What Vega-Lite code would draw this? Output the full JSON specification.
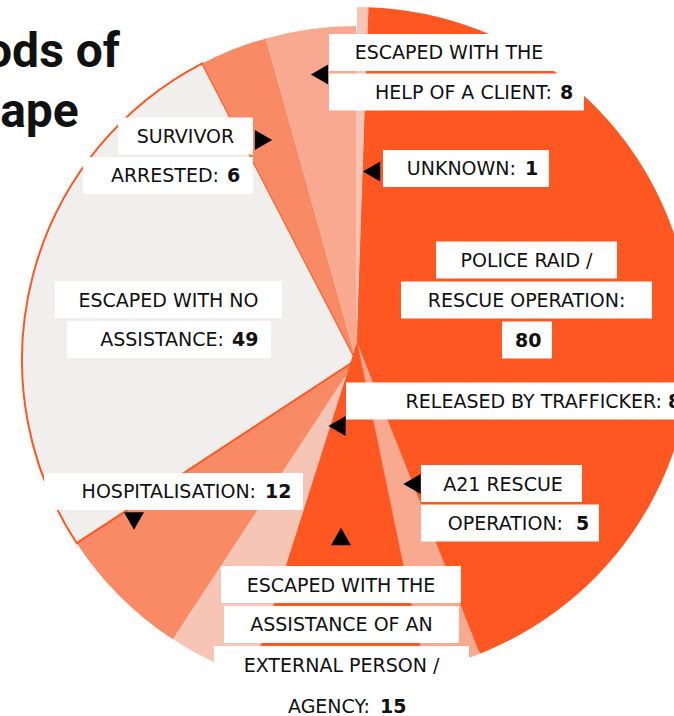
{
  "$schema": "https://vega.github.io/schema/vega-lite/v6.json",
  "width": 712,
  "height": 720,
  "padding": 0,
  "autosize": {"type": "none"},
  "background": "white",
  "config": {"view": {"stroke": null}},
  "datasets": {
    "slices": [
      {"method": "Unknown", "count": 1, "rank": 1},
      {"method": "Police raid / rescue operation", "count": 80, "rank": 2},
      {"method": "A21 rescue operation", "count": 5, "rank": 3},
      {"method": "Escaped with the assistance of an external person / agency", "count": 15, "rank": 4},
      {"method": "Released by trafficker", "count": 8, "rank": 5},
      {"method": "Hospitalisation", "count": 12, "rank": 6},
      {"method": "Escaped with no assistance", "count": 49, "rank": 7},
      {"method": "Survivor arrested", "count": 6, "rank": 8},
      {"method": "Escaped with the help of a client", "count": 8, "rank": 9}
    ],
    "boxes": [
      {"x": -8.08, "x2": 63.77, "y": 92.07},
      {"x": -8.08, "x2": 68.26, "y": 80.24},
      {"x": -71.26, "x2": -30.84, "y": 67.07},
      {"x": -81.74, "x2": -30.84, "y": 55.24},
      {"x": 8.08, "x2": 57.78, "y": 57.34},
      {"x": 23.95, "x2": 78.14, "y": 29.94},
      {"x": 13.47, "x2": 88.62, "y": 17.96},
      {"x": 43.71, "x2": 58.68, "y": 5.99},
      {"x": -90.12, "x2": -22.16, "y": 18.11},
      {"x": -86.53, "x2": -25.45, "y": 6.14},
      {"x": -2.99, "x2": 103.0, "y": -12.28},
      {"x": 19.46, "x2": 67.66, "y": -36.98},
      {"x": 19.46, "x2": 72.75, "y": -48.8},
      {"x": -93.41, "x2": -15.87, "y": -39.37},
      {"x": -40.42, "x2": 31.44, "y": -67.22},
      {"x": -39.52, "x2": 30.84, "y": -79.19},
      {"x": -42.51, "x2": 33.83, "y": -91.17}
    ],
    "centerText": [
      {"text": "ESCAPED WITH THE", "x": 27.84, "y": 92.07},
      {"text": "SURVIVOR", "x": -51.05, "y": 67.07},
      {"text": "POLICE RAID /", "x": 51.05, "y": 29.94},
      {"text": "RESCUE OPERATION:", "x": 51.05, "y": 17.96},
      {"text": "ESCAPED WITH NO", "x": -56.14, "y": 18.11},
      {"text": "A21 RESCUE", "x": 44.01, "y": -36.98},
      {"text": "ESCAPED WITH THE", "x": -4.49, "y": -67.22},
      {"text": "ASSISTANCE OF AN", "x": -4.34, "y": -79.19},
      {"text": "EXTERNAL PERSON /", "x": -4.34, "y": -91.17}
    ],
    "rightText": [
      {"text": "HELP OF A CLIENT:", "x": 58.68, "y": 80.24},
      {"text": "ARRESTED:", "x": -41.02, "y": 55.24},
      {"text": "UNKNOWN:", "x": 47.9, "y": 57.34},
      {"text": "ASSISTANCE:", "x": -39.52, "y": 6.14},
      {"text": "RELEASED BY TRAFFICKER:", "x": 91.62, "y": -12.28},
      {"text": "OPERATION:", "x": 61.98, "y": -48.8},
      {"text": "HOSPITALISATION:", "x": -29.94, "y": -39.37},
      {"text": "AGENCY:", "x": 4.19, "y": -103.59}
    ],
    "numbers": [
      {"text": "8", "x": 61.08, "y": 80.24},
      {"text": "6", "x": -38.62, "y": 55.24},
      {"text": "1", "x": 50.6, "y": 57.34},
      {"text": "80", "x": 47.6, "y": 5.99},
      {"text": "49", "x": -37.13, "y": 6.14},
      {"text": "8", "x": 93.41, "y": -12.28},
      {"text": "5", "x": 65.87, "y": -48.8},
      {"text": "12", "x": -27.25, "y": -39.37},
      {"text": "15", "x": 7.19, "y": -103.59}
    ],
    "arrows": [
      {"dir": "left", "x": -10.93, "y": 85.48},
      {"dir": "right", "x": -27.69, "y": 65.87},
      {"dir": "left", "x": 4.64, "y": 56.44},
      {"dir": "left", "x": -5.69, "y": -19.76},
      {"dir": "left", "x": 16.77, "y": -37.13},
      {"dir": "up", "x": -4.49, "y": -52.84},
      {"dir": "down", "x": -66.47, "y": -48.2}
    ],
    "title": [
      {"text": "Methods of", "x": -70.66, "y": 87.72},
      {"text": "Escape", "x": -83.0, "y": 69.76}
    ]
  },
  "layer": [
    {
      "data": {"name": "slices"},
      "mark": {"type": "arc", "radius": 334, "strokeWidth": 2},
      "encoding": {
        "theta": {"field": "count", "type": "quantitative", "stack": true},
        "order": {"field": "rank", "type": "quantitative"},
        "color": {
          "field": "method", "type": "nominal", "legend": null,
          "scale": {
            "domain": ["Unknown", "Police raid / rescue operation", "A21 rescue operation", "Escaped with the assistance of an external person / agency", "Released by trafficker", "Hospitalisation", "Escaped with no assistance", "Survivor arrested", "Escaped with the help of a client"],
            "range": ["#f6c5b5", "#ff5722", "#f9a98f", "#ff5722", "#f6c5b5", "#f98a66", "#f0efed", "#f98a66", "#f9a98f"]
          }
        },
        "opacity": {"condition": {"test": "datum.rank >= 5", "value": 1}, "value": 0},
        "stroke": {"condition": {"test": "datum.method === 'Escaped with no assistance'", "value": "#ff5722"}, "value": null}
      }
    },
    {
      "data": {"name": "slices"},
      "mark": {"type": "arc", "radius": 315},
      "encoding": {
        "theta": {"field": "count", "type": "quantitative", "stack": true},
        "order": {"field": "rank", "type": "quantitative"},
        "color": {"field": "method", "type": "nominal", "legend": null},
        "opacity": {"condition": {"test": "datum.rank <= 4", "value": 1}, "value": 0}
      }
    },
    {
      "data": {"name": "slices"},
      "mark": {"type": "arc", "radius": 335, "xOffset": 1, "yOffset": -18},
      "encoding": {
        "theta": {"field": "count", "type": "quantitative", "stack": true},
        "order": {"field": "rank", "type": "quantitative"},
        "color": {"field": "method", "type": "nominal", "legend": null},
        "opacity": {"condition": {"test": "datum.rank <= 4", "value": 1}, "value": 0}
      }
    },
    {
      "data": {"name": "boxes"},
      "mark": {"type": "rule", "color": "white", "strokeWidth": 37, "strokeCap": "butt"},
      "encoding": {
        "x": {"field": "x", "type": "quantitative", "scale": {"domain": [-106.587, 106.587], "nice": false, "zero": false}, "axis": null},
        "x2": {"field": "x2"},
        "y": {"field": "y", "type": "quantitative", "scale": {"domain": [-107.784, 107.784], "nice": false, "zero": false}, "axis": null}
      }
    },
    {
      "data": {"name": "centerText"},
      "mark": {"type": "text", "align": "center", "baseline": "middle", "dy": 1, "font": "DejaVu Sans", "fontSize": 19, "color": "#111111"},
      "encoding": {
        "x": {"field": "x", "type": "quantitative"},
        "y": {"field": "y", "type": "quantitative"},
        "text": {"field": "text"}
      }
    },
    {
      "data": {"name": "rightText"},
      "mark": {"type": "text", "align": "right", "baseline": "middle", "dy": 1, "font": "DejaVu Sans", "fontSize": 19, "color": "#111111"},
      "encoding": {
        "x": {"field": "x", "type": "quantitative"},
        "y": {"field": "y", "type": "quantitative"},
        "text": {"field": "text"}
      }
    },
    {
      "data": {"name": "numbers"},
      "mark": {"type": "text", "align": "left", "baseline": "middle", "dy": 1, "font": "DejaVu Sans", "fontSize": 19, "fontWeight": "bold", "color": "#111111"},
      "encoding": {
        "x": {"field": "x", "type": "quantitative"},
        "y": {"field": "y", "type": "quantitative"},
        "text": {"field": "text"}
      }
    },
    {
      "data": {"name": "arrows"},
      "mark": {"type": "point", "filled": true, "size": 400, "color": "#000000", "opacity": 1},
      "encoding": {
        "x": {"field": "x", "type": "quantitative"},
        "y": {"field": "y", "type": "quantitative"},
        "shape": {"field": "dir", "type": "nominal", "legend": null, "scale": {"domain": ["left", "right", "up", "down"], "range": ["triangle-left", "triangle-right", "triangle-up", "triangle-down"]}}
      }
    },
    {
      "data": {"name": "title"},
      "mark": {"type": "text", "align": "right", "baseline": "alphabetic", "font": "Roboto", "fontSize": 48, "fontWeight": "bold", "color": "#111111"},
      "encoding": {
        "x": {"field": "x", "type": "quantitative"},
        "y": {"field": "y", "type": "quantitative"},
        "text": {"field": "text"}
      }
    }
  ]
}
